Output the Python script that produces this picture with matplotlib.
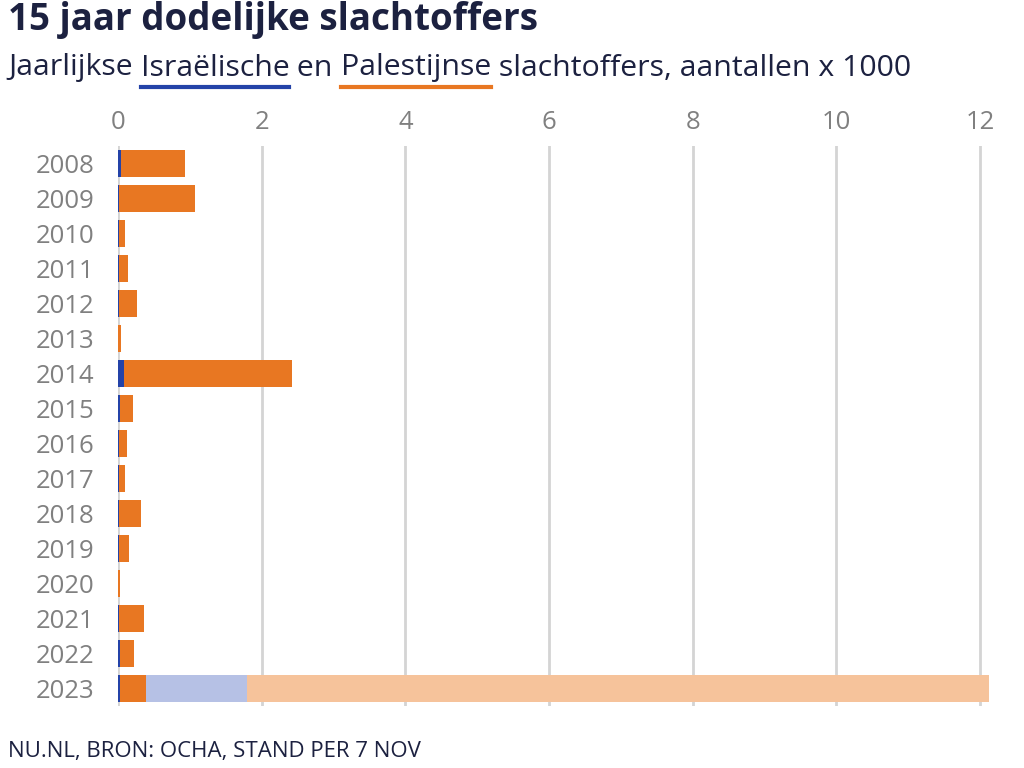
import matplotlib.pyplot as plt
import numpy as np

plt.rcParams['font.family'] = ['Open Sans', 'DejaVu Sans']

# data, aantallen x 1000
jaren = ['2008', '2009', '2010', '2011', '2012', '2013', '2014', '2015',
         '2016', '2017', '2018', '2019', '2020', '2021', '2022', '2023']
israelisch = [0.035, 0.009, 0.009, 0.011, 0.007, 0.006, 0.088, 0.028,
              0.017, 0.015, 0.014, 0.010, 0.003, 0.011, 0.029, 0.030]
palestijns = [0.899, 1.066, 0.095, 0.124, 0.260, 0.039, 2.329, 0.174,
              0.110, 0.077, 0.300, 0.137, 0.030, 0.349, 0.191, 0.360]
# 2023 na 7 oktober
israelisch_extra = [0, 0, 0, 0, 0, 0, 0, 0, 0, 0, 0, 0, 0, 0, 0, 1.40]
palestijns_extra = [0, 0, 0, 0, 0, 0, 0, 0, 0, 0, 0, 0, 0, 0, 0, 10.33]

BLAUW = '#2443a8'
ORANJE = '#e87722'
LICHTBLAUW = '#b6c1e5'
LICHTORANJE = '#f6c39b'
DONKER = '#1c2140'
GRIJS = '#808080'

XMAX = 12.2
fig = plt.figure(figsize=(10.24, 7.68), dpi=100)
ax = fig.add_axes([118 / 1024, 1 - 706 / 768, 862 / 12 * XMAX / 1024, 560 / 768])

y = np.arange(len(jaren))
h = 0.75
links = np.zeros(len(jaren))
for vals, kleur in [(israelisch, BLAUW), (palestijns, ORANJE),
                    (israelisch_extra, LICHTBLAUW), (palestijns_extra, LICHTORANJE)]:
    ax.barh(y, vals, left=links, height=h, color=kleur, zorder=3)
    links = links + np.array(vals)

ax.set_xlim(0, XMAX)
ax.set_ylim(len(jaren) - 0.5, -0.5)
ax.set_xticks(range(0, 13, 2))
ax.set_yticks(y)
ax.set_yticklabels(jaren)
ax.xaxis.tick_top()
ax.tick_params(axis='both', length=0, labelsize=18.5, colors=GRIJS)
ax.tick_params(axis='x', pad=8)
ax.tick_params(axis='y', pad=17)
ax.grid(axis='x', color='#d4d4d4', linewidth=2, zorder=0)
for s in ax.spines.values():
    s.set_visible(False)

fig.text(8 / 1024, 1 - 20 / 768, '15 jaar dodelijke slachtoffers', fontsize=26.5,
         fontweight='bold', color=DONKER, va='center', ha='left')

# ondertitel in stukken, met streep onder de twee namen
stukken = [('Jaarlijkse ', None), ('Israëlische', BLAUW), (' en ', None),
           ('Palestijnse', ORANJE), (' slachtoffers, aantallen x 1000', None)]
fig.canvas.draw()
r = fig.canvas.get_renderer()
x = 8
for tekst, kleur in stukken:
    t = fig.text(x / 1024, 1 - 68 / 768, tekst, fontsize=21.8, color=DONKER,
                 va='center', ha='left')
    bb = t.get_window_extent(renderer=r)
    if kleur:
        fig.add_artist(plt.Line2D([x / 1024, (x + bb.width) / 1024],
                                  [1 - 87 / 768, 1 - 87 / 768],
                                  transform=fig.transFigure, color=kleur, linewidth=3))
    x += bb.width

fig.text(8 / 1024, 1 - 751 / 768, 'NU.NL, BRON: OCHA, STAND PER 7 NOV', fontsize=16,
         color=DONKER, va='center', ha='left')

fig.savefig('out.png', dpi=100)
